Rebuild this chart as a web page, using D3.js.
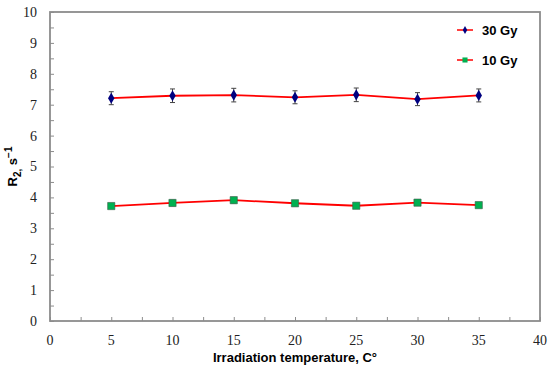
<!DOCTYPE html>
<html>
<head>
<meta charset="utf-8">
<script src="https://cdn.jsdelivr.net/npm/d3@7"></script>
<style>
  html, body { margin: 0; padding: 0; background: #fff; }
</style>
</head>
<body>
<div id="chart"></div>
<script>
// data
const temps = [5, 10, 15, 20, 25, 30, 35];
const gy30 = [7.21, 7.29, 7.31, 7.24, 7.32, 7.18, 7.30];
const gy30Err = [0.21, 0.22, 0.22, 0.21, 0.22, 0.21, 0.21];
const gy10 = [3.72, 3.82, 3.91, 3.81, 3.73, 3.83, 3.75];
const gy10Err = [0.08, 0.09, 0.09, 0.08, 0.08, 0.09, 0.08];
const xTicks = [0, 5, 10, 15, 20, 25, 30, 35, 40];
const yTicks = [0, 1, 2, 3, 4, 5, 6, 7, 8, 9, 10];
const seriesNames = ['30 Gy', '10 Gy'];

const width = 550, height = 369;
const margin = { top: 12, right: 10, bottom: 48, left: 50 };

const x = d3.scaleLinear().domain([0, 40]).range([margin.left, width - margin.right]);
const y = d3.scaleLinear().domain([0, 10]).range([height - margin.bottom, margin.top]);

const svg = d3.select('#chart').append('svg')
  .attr('width', width).attr('height', height)
  .style('font-family', 'Arial, "Liberation Sans", sans-serif');

const axisColor = '#8c8c8c';

// plot frame
svg.append('rect')
  .attr('x', x(0)).attr('y', y(10))
  .attr('width', x(40) - x(0)).attr('height', y(0) - y(10))
  .attr('fill', 'none').attr('stroke', axisColor).attr('stroke-width', 1.8);

// inward ticks: majors + halfway minors
const yAxis = d3.axisLeft(y).tickValues(d3.range(0, 10.01, 0.5)).tickSize(-4).tickFormat('');
const xAxis = d3.axisBottom(x).tickValues(d3.range(0, 40.01, 2.5)).tickSize(-4).tickFormat('');

const gy = svg.append('g').attr('transform', `translate(${x(0)},0)`).call(yAxis);
const gx = svg.append('g').attr('transform', `translate(0,${y(0)})`).call(xAxis);
[gx, gy].forEach(g => {
  g.select('.domain').remove();
  g.selectAll('line').attr('stroke', axisColor);
});

// tick labels
svg.append('g').selectAll('text').data(yTicks).join('text')
  .attr('x', x(0) - 13).attr('y', d => y(d)).attr('dy', '0.35em')
  .attr('text-anchor', 'end')
  .style('font-family', '"Liberation Serif", "Times New Roman", serif')
  .style('font-size', '14px').attr('fill', '#222')
  .text(d => d);

svg.append('g').selectAll('text').data(xTicks).join('text')
  .attr('x', d => x(d)).attr('y', y(0) + 24)
  .attr('text-anchor', 'middle')
  .style('font-family', '"Liberation Serif", "Times New Roman", serif')
  .style('font-size', '14px').attr('fill', '#222')
  .text(d => d);

// axis titles
svg.append('text')
  .attr('x', (x(0) + x(40)) / 2 + 0).attr('y', 362)
  .attr('text-anchor', 'middle')
  .style('font-size', '13px').style('font-weight', 'bold')
  .text('Irradiation temperature, C°');

const yl = svg.append('text')
  .attr('transform', `translate(17,${(y(0) + y(10)) / 2}) rotate(-90)`)
  .attr('text-anchor', 'middle')
  .style('font-size', '13px').style('font-weight', 'bold');
yl.append('tspan').text('R');
yl.append('tspan').attr('dy', 4).style('font-size', '10px').text('2,');
yl.append('tspan').attr('dy', -4).text(' s');
yl.append('tspan').attr('dy', -5).style('font-size', '10px').text('−1');

const series = [
  { name: seriesNames[0], values: gy30, err: gy30Err, color: '#000080', shape: d3.symbolDiamond, size: 36, stroke: 'none' },
  { name: seriesNames[1], values: gy10, err: gy10Err, color: '#00b050', shape: d3.symbolSquare, size: 52, stroke: '#3a5a48' },
];

const line = d3.line().x((d, i) => x(temps[i])).y(d => y(d));

series.forEach(s => {
  const g = svg.append('g');
  g.append('path').datum(s.values)
    .attr('d', line).attr('fill', 'none')
    .attr('stroke', '#ff0000').attr('stroke-width', 1.8);

  const eb = g.selectAll('.err').data(s.values).join('g').attr('class', 'err');
  eb.append('line')
    .attr('x1', (d, i) => x(temps[i])).attr('x2', (d, i) => x(temps[i]))
    .attr('y1', (d, i) => y(d - s.err[i])).attr('y2', (d, i) => y(d + s.err[i]))
    .attr('stroke', '#444').attr('stroke-width', 1);
  [-1, 1].forEach(sign => {
    eb.append('line')
      .attr('x1', (d, i) => x(temps[i]) - 2.5).attr('x2', (d, i) => x(temps[i]) + 2.5)
      .attr('y1', (d, i) => y(d + sign * s.err[i])).attr('y2', (d, i) => y(d + sign * s.err[i]))
      .attr('stroke', '#444').attr('stroke-width', 1);
  });

  g.selectAll('.pt').data(s.values).join('path')
    .attr('transform', (d, i) => `translate(${x(temps[i])},${y(d)})`)
    .attr('d', d3.symbol(s.shape, s.size))
    .attr('fill', s.color)
    .attr('stroke', s.stroke).attr('stroke-width', 0.6);
});

// legend
const leg = svg.append('g');
series.forEach((s, i) => {
  const ly = 30 + i * 30;
  leg.append('line').attr('x1', 457).attr('x2', 473).attr('y1', ly).attr('y2', ly)
    .attr('stroke', '#ff0000').attr('stroke-width', 1.5);
  leg.append('path').attr('transform', `translate(465,${ly})`)
    .attr('d', d3.symbol(s.shape, i === 0 ? 18 : 26)).attr('fill', s.color);
  leg.append('text').attr('x', 482).attr('y', ly).attr('dy', '0.36em')
    .style('font-size', '13px').style('font-weight', 'bold')
    .text(s.name);
});
</script>
</body>
</html>
